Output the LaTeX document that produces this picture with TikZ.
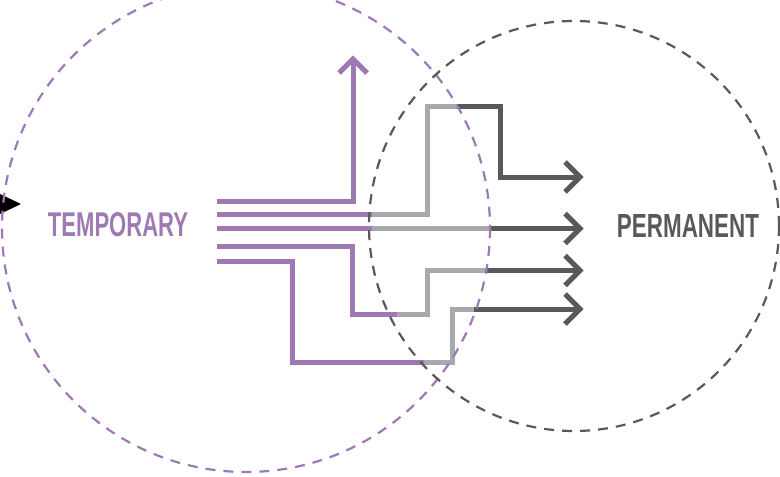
\documentclass[tikz,border=0pt]{standalone}
\usepackage{fontspec}
\setmainfont{Liberation Sans}
\definecolor{tpurple}{HTML}{9E79B4}
\definecolor{lgrey}{HTML}{A7A9AC}
\definecolor{dgrey}{HTML}{58595B}
\tikzset{
  band/.style={line width=5pt, line join=miter, line cap=butt},
  circ/.style={line width=2.2pt, dash pattern=on 10pt off 8pt},
  chev/.style={band, line join=miter}
}
\begin{document}
\begin{tikzpicture}[x=1pt,y=-1pt]
\useasboundingbox (0,0) rectangle (780,477);
% labels
\node[text=tpurple, font=\bfseries, inner sep=0pt] (temp) at (118,225) {\resizebox{140pt}{24pt}{TEMPORARY}};
\node[text=dgrey, font=\bfseries, inner sep=0pt] (perm) at (688,226) {\resizebox{142pt}{23pt}{PERMANENT}};
% small black arrowhead at left edge
\fill[black] (0,194) -- (21,204) -- (0,214) -- cycle;
% line 1
\draw[band, tpurple] (217,201.5) -- (353,201.5) -- (353,60);
\draw[chev, tpurple] (339,73) -- (353,59) -- (367,73);
% line 2
\draw[band, tpurple] (217,214) -- (372,214);
\draw[band, lgrey] (372,214) -- (427,214) -- (427,106) -- (457,106);
\draw[band, dgrey] (457,106) -- (500,106) -- (500,177) -- (580,177);
\draw[chev, dgrey] (565,162) -- (580,177) -- (565,192);
% line 3
\draw[band, tpurple] (217,228.5) -- (372,228.5);
\draw[band, lgrey] (372,228.5) -- (489,228.5);
\draw[band, dgrey] (489,228.5) -- (580,228.5);
\draw[chev, dgrey] (565,213.5) -- (580,228.5) -- (565,243.5);
% line 4
\draw[band, tpurple] (217,246.5) -- (352,246.5) -- (352,314) -- (397,314);
\draw[band, lgrey] (397,314) -- (427,314) -- (427,270.5) -- (486,270.5);
\draw[band, dgrey] (486,270.5) -- (580,270.5);
\draw[chev, dgrey] (565,255.5) -- (580,270.5) -- (565,285.5);
% line 5
\draw[band, tpurple] (217,261) -- (292,261) -- (292,362.5) -- (424,362.5);
\draw[band, lgrey] (424,362.5) -- (452,362.5) -- (452,309) -- (474,309);
\draw[band, dgrey] (474,309) -- (580,309);
\draw[chev, dgrey] (565,294) -- (580,309) -- (565,324);
% circles
\draw[circ, tpurple] (246,228) circle (244);
\draw[circ, dgrey] (574,226) circle (205);
\end{tikzpicture}
\end{document}
